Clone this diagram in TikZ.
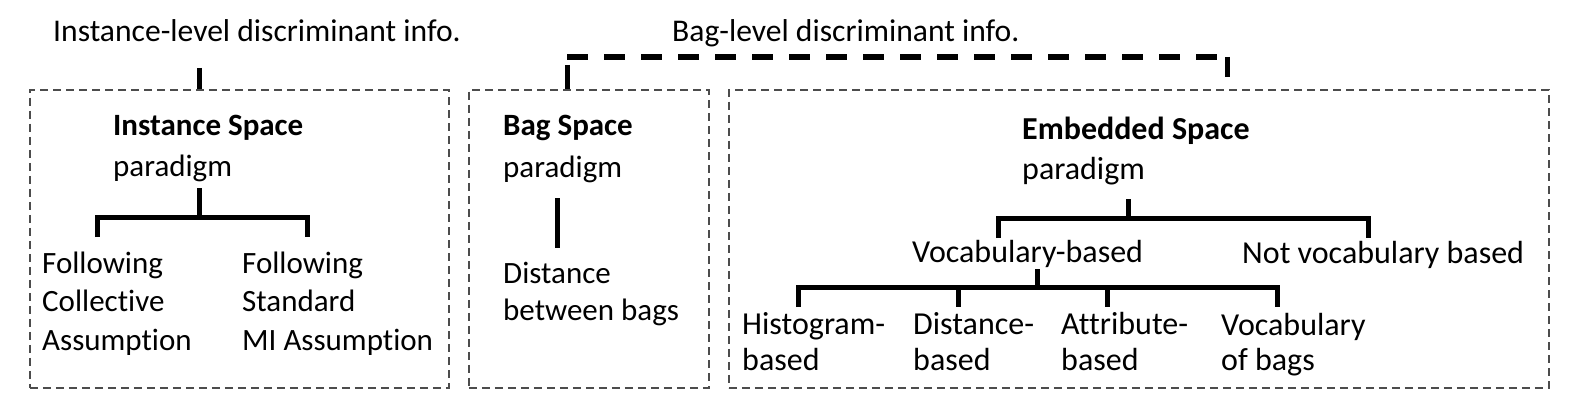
\documentclass[tikz,border=0pt]{standalone}
\usepackage{fontspec}
\setmainfont{Carlito}[Ligatures=NoCommon]
\begin{document}
\begin{tikzpicture}[x=1pt,y=-1pt,
  box/.style={draw=black!70, line width=1.5pt, dash pattern=on 8pt off 5pt, inner sep=0pt, anchor=north west},
  tree/.style={line width=5pt},
  lbl/.style={anchor=base west, inner sep=0pt, align=left},
  fs/.style={font=\fontsize{31}{#1}\selectfont},
  efs/.style={font=\fontsize{32}{#1}\selectfont},
  toplbl/.style={anchor=base west, inner sep=0pt, font=\fontsize{31.6}{36}\selectfont},
  bagline/.style={line width=5.5pt, dash pattern=on 21pt off 16pt}]
\useasboundingbox (0,0) rectangle (1584,420);
\fill[white] (0,0) rectangle (1584,420);

% boxes
\node[box, minimum width=419pt, minimum height=298pt] (B1) at (29,89) {};
\node[box, minimum width=240pt, minimum height=298pt] (B2) at (468,89) {};
\node[box, minimum width=820pt, minimum height=298pt] (B3) at (728,89) {};

% top labels
\node[toplbl] (inst) at (53,42) {Instance-level discriminant info.};
\node[toplbl] (bag) at (672,42) {Bag-level discriminant info.};

% links to boxes
\coordinate (t1) at (199,68);
\draw[tree] (t1) -- (t1 |- B1.north);
\coordinate (bl) at (567,57);
\coordinate (br) at (1227,57);
\coordinate (brd) at (1227,77);
\coordinate (bld) at (567,65);
\draw[bagline] (bl) -- (br);
\draw[tree] (bld) -- (bld |- B2.north);
\draw[tree] (br) -- (brd);

% Instance space
\node[lbl, fs=41] (isp) at (113,176) {\textbf{Instance Space}\\paradigm};
\node[lbl, fs=38.5] (coll) at (42,350) {Following\\Collective\\Assumption};
\node[lbl, fs=38.5] (std) at (242,350) {Following\\Standard\\MI Assumption};
\coordinate (i0) at (199,188);
\coordinate (i1) at (199,217);
\coordinate (iL) at (97,217);
\coordinate (iR) at (307,217);
\draw[tree] (i0) -- (i1);
\draw[tree] ([yshift=-20pt]iL) -- (iL) -- (iR) -- ([yshift=-20pt]iR);

% Bag space
\node[lbl, fs=42] (bsp) at (503,177) {\textbf{Bag Space}\\paradigm};
\node[lbl, fs=37] (dist) at (503,320) {Distance\\between bags};
\coordinate (b0) at (557,198);
\coordinate (b1) at (557,248);
\draw[tree] (b0) -- (b1);

% Embedded space
\node[lbl, efs=40] (esp) at (1022,179) {\textbf{Embedded Space}\\paradigm};
\node[lbl, efs=36] (voc) at (912,262) {Vocabulary-based};
\node[lbl, efs=36] (nvoc) at (1242,263) {Not vocabulary based};
\coordinate (e0) at (1128,199);
\coordinate (e1) at (1128,218);
\coordinate (eL) at (998,218);
\coordinate (eR) at (1368,218);
\draw[tree] (e0) -- (e1);
\draw[tree] ([yshift=-20pt]eL) -- (eL) -- (eR) -- ([yshift=-20pt]eR);

\node[lbl, efs=36] (hist) at (742,370) {Histogram-\\based};
\node[lbl, efs=36] (dbas) at (913,370) {Distance-\\based};
\node[lbl, efs=36] (abas) at (1061,370) {Attribute-\\based};
\node[lbl, efs=35] (vbag) at (1221,370) {Vocabulary\\of bags};
\coordinate (v0) at (1037,269);
\coordinate (v1) at (1037,287);
\coordinate (vA) at (798,287);
\coordinate (vB) at (958,287);
\coordinate (vC) at (1107,287);
\coordinate (vD) at (1277,287);
\draw[tree] (v0) -- (v1);
\draw[tree] ([yshift=-20pt]vA) -- (vA) -- (vD) -- ([yshift=-20pt]vD);
\draw[tree] (vB) -- ([yshift=-20pt]vB);
\draw[tree] (vC) -- ([yshift=-20pt]vC);
\end{tikzpicture}
\end{document}
